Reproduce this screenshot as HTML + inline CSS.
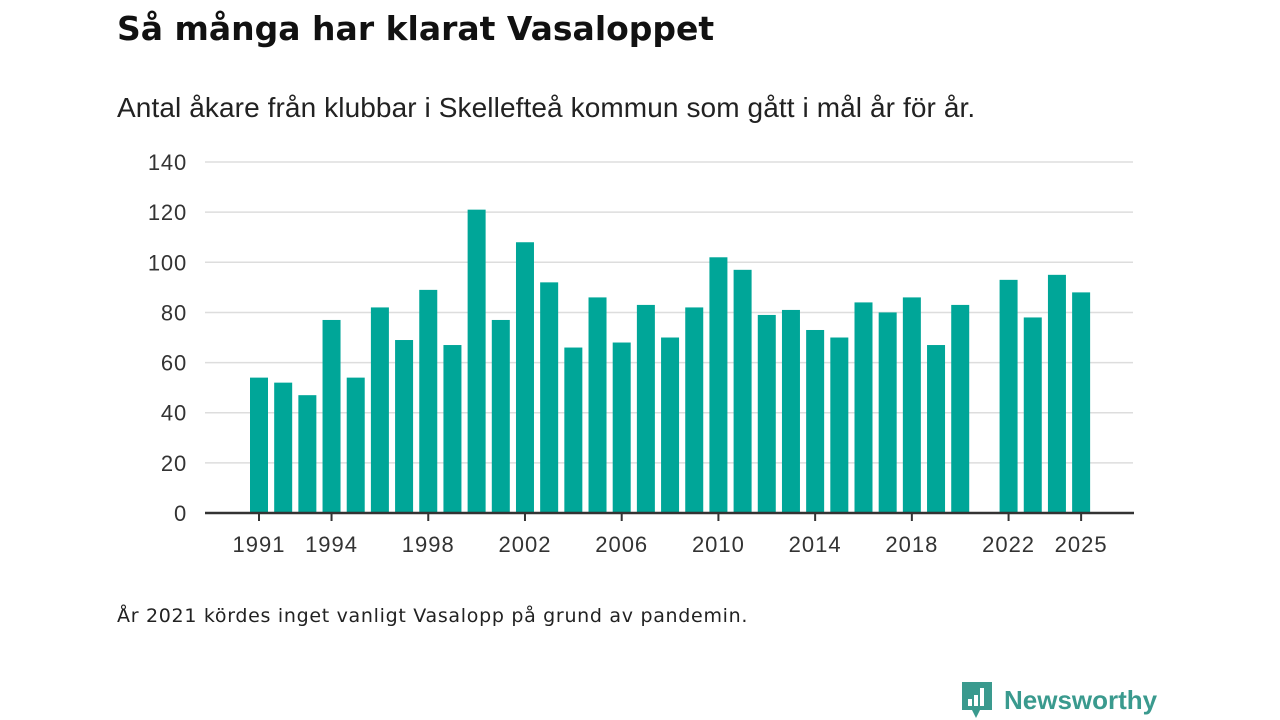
<!DOCTYPE html>
<html><head><meta charset="utf-8"><style>
body{margin:0;width:1280px;height:720px;background:#fff;font-family:"Liberation Sans","DejaVu Sans",sans-serif;overflow:hidden;position:relative}
.t{position:absolute;left:117px;top:9px;font-family:"DejaVu Sans",sans-serif;font-size:33px;font-weight:bold;color:#111;letter-spacing:0px}
.s{position:absolute;left:117px;top:92px;font-size:28px;color:#222;letter-spacing:0.1px}
.n{position:absolute;left:117px;top:605px;font-family:"DejaVu Sans",sans-serif;font-size:19px;color:#222;letter-spacing:0.7px}
svg{position:absolute;left:0;top:0}
</style></head><body>
<div class="t">Så många har klarat Vasaloppet</div>
<div class="s">Antal åkare från klubbar i Skellefteå kommun som gått i mål år för år.</div>
<svg id="c" width="1280" height="720"></svg>
<div class="n">År 2021 kördes inget vanligt Vasalopp på grund av pandemin.</div>
<div style="position:absolute;left:960px;top:680px;display:flex;align-items:center">
<svg width="34" height="40" style="position:static"><path d="M2 2h30v28h-12l-4 8-4-8h-10z" fill="#3a9a8e"/><rect x="8" y="19" width="4" height="7" fill="#fff"/><rect x="14" y="15" width="4" height="11" fill="#fff"/><rect x="20" y="8" width="4" height="18" fill="#fff"/></svg>
<span style="font-size:26px;font-weight:bold;color:#3a9a8e;margin-left:10px">Newsworthy</span></div>
<script>
const years=[1991,1992,1993,1994,1995,1996,1997,1998,1999,2000,2001,2002,2003,2004,2005,2006,2007,2008,2009,2010,2011,2012,2013,2014,2015,2016,2017,2018,2019,2020,2021,2022,2023,2024,2025];
const values=[54,52,47,77,54,82,69,89,67,121,77,108,92,66,86,68,83,70,82,102,97,79,81,73,70,84,80,86,67,83,null,93,78,95,88];
const yTicks=[0,20,40,60,80,100,120,140];
const xTicks=[1991,1994,1998,2002,2006,2010,2014,2018,2022,2025];
const NS="http://www.w3.org/2000/svg",svg=document.getElementById('c');
const x=y=>259+(y-1991)*24.18, yy=v=>513-v*2.507;
function mk(t,a){const e=document.createElementNS(NS,t);for(const k in a)e.setAttribute(k,a[k]);svg.appendChild(e);return e;}
yTicks.forEach(v=>{
 if(v>0){const l=mk('line',{x1:205,x2:1133,y1:yy(v),y2:yy(v),stroke:'#ddd','stroke-width':1.5});
 
 }
 const t=mk('text',{x:187,y:yy(v)+8,'text-anchor':'end','font-size':22,fill:'#333','letter-spacing':0.8});t.textContent=v;
 
 
});
years.forEach((yr,i)=>{if(values[i]==null)return;
 const r=mk('rect',{x:x(yr)-9,y:yy(values[i]),width:18,height:values[i]*2.507,fill:'#00a698'});
 
 
});
const ax=mk('line',{x1:205,x2:1134,y1:513,y2:513,stroke:'#333','stroke-width':2.5});


xTicks.forEach(yr=>{
 const l=mk('line',{x1:x(yr),x2:x(yr),y1:513,y2:521,stroke:'#333','stroke-width':2});
 
 
 const t=mk('text',{x:x(yr),y:552,'text-anchor':'middle','font-size':22,fill:'#333','letter-spacing':1});t.textContent=yr;
 
 
});
</script>
</body></html>
